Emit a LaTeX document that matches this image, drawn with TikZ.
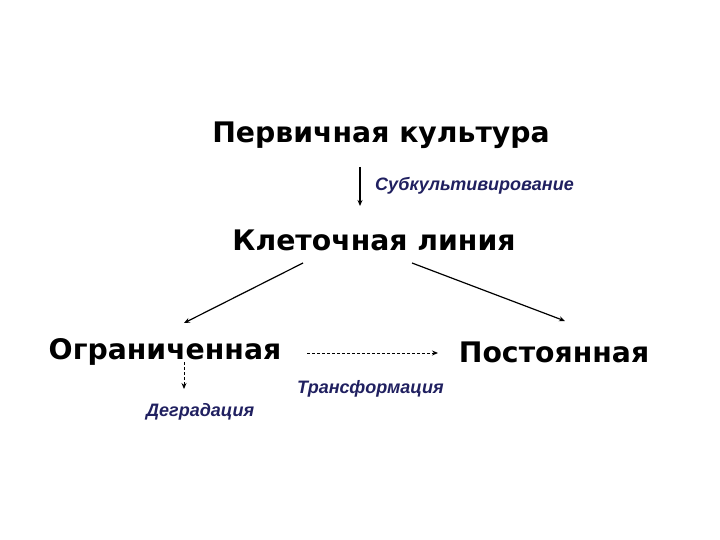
\documentclass[tikz,border=0pt]{standalone}
\usepackage{fontspec}
\setmainfont{DejaVu Sans}
\newfontfamily\lblfont{Liberation Sans}
\usetikzlibrary{arrows.meta}
\definecolor{lblnavy}{RGB}{32,32,96}
\begin{document}
\begin{tikzpicture}[x=1pt,y=-1pt,
  big/.style={font=\bfseries\fontsize{28.3}{32}\selectfont, inner sep=0pt, anchor=center},
  lbl/.style={font=\lblfont\bfseries\itshape\fontsize{18}{20}\selectfont, text=lblnavy, inner sep=0pt, anchor=west},
  arr/.style={-{Stealth[length=6pt,width=5pt]}, line width=1.2pt},
  darr/.style={arr, dashed, dash pattern=on 3pt off 2pt, line width=0.9pt}]
\useasboundingbox (0,0) rectangle (720,540);
\node[big] (pk) at (381,135) {Первичная культура};
\node[big] (kl) at (374,240) {Клеточная линия};
\node[big] (og) at (165,352) {Ограниченная};
\node[big] (po) at (554,352) {Постоянная};
\coordinate (s1) at (360,167);
\coordinate (s2) at (360,206);
\draw[arr] (s1) -- (s2);
\node[lbl] (sub) at (375,186) {Субкультивирование};
\coordinate (l1) at (303,263);
\coordinate (l2) at (184,323);
\coordinate (r1) at (412,263);
\coordinate (r2) at (565,321);
\draw[arr] (l1) -- (l2);
\draw[arr] (r1) -- (r2);
\coordinate (t1) at (307,353);
\coordinate (t2) at (438,353);
\draw[darr] (t1) -- (t2);
\node[lbl] (tr) at (297,389) {Трансформация};
\coordinate (d1) at (184,362);
\coordinate (d2) at (184,389);
\draw[darr] (d1) -- (d2);
\node[lbl] (dg) at (146,412) {Деградация};
\end{tikzpicture}
\end{document}
